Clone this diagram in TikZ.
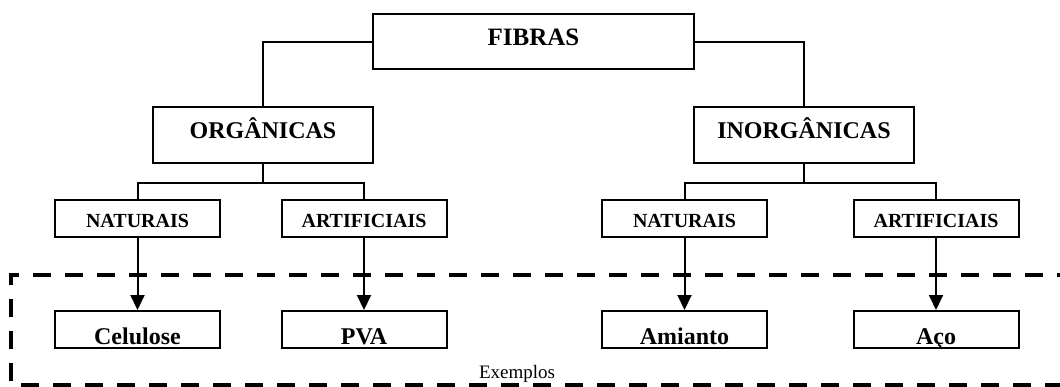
\documentclass[tikz,border=0pt]{standalone}
\usepackage{fontspec}
\setmainfont{Liberation Serif}
\usetikzlibrary{arrows.meta}
\tikzset{
  box/.style={draw=black, line width=2pt, inner sep=0pt, anchor=center, font=\bfseries, text depth=0pt},
  topbox/.style={box, minimum width=321pt, minimum height=55pt, text height=7pt, font=\fontsize{25}{28}\selectfont\bfseries},
  lvlone/.style={box, minimum width=220pt, minimum height=56pt, text height=7pt, font=\fontsize{24}{27}\selectfont\bfseries},
  lvltwo/.style={box, minimum width=165pt, minimum height=37pt, text height=17pt, font=\fontsize{20}{23}\selectfont\bfseries},
  leaf/.style={box, minimum width=165pt, minimum height=37pt, text height=29pt, font=\fontsize{24}{27}\selectfont\bfseries},
  conn/.style={line width=2pt},
  arr/.style={line width=2pt, -{Triangle[width=14pt,length=15pt]}},
  dashbox/.style={line width=4pt, dash pattern=on 18pt off 14pt}
}
\begin{document}
\begin{tikzpicture}[x=1pt,y=-1pt]
\useasboundingbox (0,0) rectangle (1060,386);
\clip (0,0) rectangle (1060,386);
\fill[white] (0,0) rectangle (1060,386);

\node[topbox] (fib) at (533.5,41.5) {FIBRAS};
\node[lvlone] (org) at (263,135) {ORGÂNICAS};
\node[lvlone] (inorg) at (804,135) {INORGÂNICAS};

\node[lvltwo] (natL) at (137.5,218.5) {NATURAIS};
\node[lvltwo] (artL) at (364,218.5) {ARTIFICIAIS};
\node[lvltwo] (natR) at (684.5,218.5) {NATURAIS};
\node[lvltwo] (artR) at (936,218.5) {ARTIFICIAIS};

\node[leaf] (cel) at (137.5,329.5) {Celulose};
\node[leaf] (pva) at (364,329.5) {PVA};
\node[leaf] (ami) at (684.5,329.5) {Amianto};
\node[leaf] (aco) at (936,329.5) {Aço};

\draw[conn] (fib.west) -| (org.north);
\draw[conn] (fib.east) -| (inorg.north);

\draw[conn] (org.south) -- ++(0,19) coordinate (oj);
\draw[conn] (natL.north) |- (oj) -| (artL.north);
\draw[conn] (inorg.south) -- ++(0,19) coordinate (ij);
\draw[conn] (natR.north) |- (ij) -| (artR.north);

\draw[dashbox] (1075,275) -- (11,275) -- (11,385) -- (1075,385);

\draw[arr] (natL.south) -- (cel.north);
\draw[arr] (artL.south) -- (pva.north);
\draw[arr] (natR.south) -- (ami.north);
\draw[arr] (artR.south) -- (aco.north);

\node[font=\fontsize{19}{21}\selectfont, anchor=base] (ex) at (517,378) {Exemplos};
\end{tikzpicture}
\end{document}
